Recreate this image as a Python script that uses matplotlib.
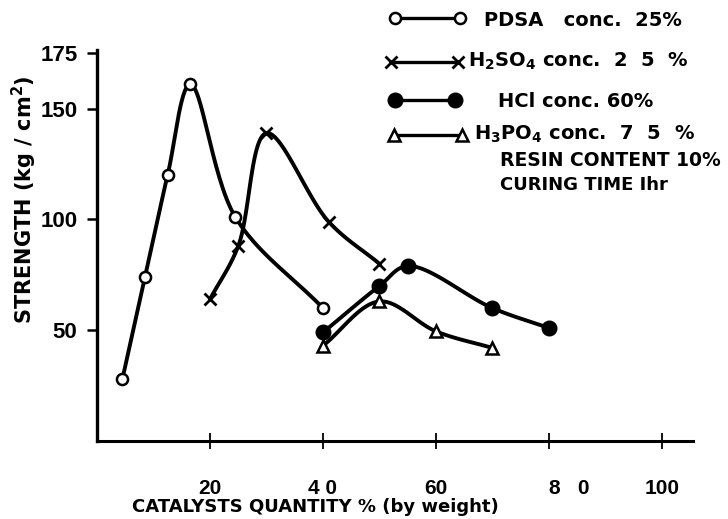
#! /usr/bin/env python3

import matplotlib

matplotlib.use("Agg")
import matplotlib.pyplot as plt
import numpy as np

# values
pdsa_x = [4.5, 8.5, 12.5, 16.5, 24.5, 40]
pdsa_y = [28, 74, 120, 161, 101, 60]
h2so4_x = [20, 25, 30, 41, 50]
h2so4_y = [64, 88, 139, 99, 80]
hcl_x = [40, 50, 55, 70, 80]
hcl_y = [49, 70, 79, 60, 51]
h3po4_x = [40, 50, 60, 70]
h3po4_y = [43, 63, 49.5, 42]

x_ticks = [20, 40, 60, 80, 100]
x_tick_labels = ["20", "4 0", "60", "8   0", "100"]
y_ticks = [50, 100, 150, 175]
y_tick_labels = ["50", "100", "150", "175"]

legend_labels = [
    "PDSA   conc.  25%",
    "H$_2$SO$_4$ conc.  2  5  %",
    "HCl conc. 60%",
    "H$_3$PO$_4$ conc.  7  5  %",
]
notes = ["RESIN CONTENT 10%", "CURING TIME Ihr"]

W, H = 728, 519
SX, SY = 5.65, 2.216  # rough pixels per data unit, only used to shape curves


def smooth(xs, ys, n=30, alpha=0.5):
    # centripetal Catmull-Rom through the read points (hand drawn look)
    p = np.column_stack([np.asarray(xs, float) * SX, np.asarray(ys, float) * SY])
    p = np.vstack([2 * p[0] - p[1], p, 2 * p[-1] - p[-2]])
    pts = []
    for i in range(len(p) - 3):
        P0, P1, P2, P3 = p[i : i + 4]
        t0 = 0.0
        t1 = t0 + np.linalg.norm(P1 - P0) ** alpha
        t2 = t1 + np.linalg.norm(P2 - P1) ** alpha
        t3 = t2 + np.linalg.norm(P3 - P2) ** alpha
        t = np.linspace(t1, t2, n, endpoint=False)[:, None]
        A1 = (t1 - t) / (t1 - t0) * P0 + (t - t0) / (t1 - t0) * P1
        A2 = (t2 - t) / (t2 - t1) * P1 + (t - t1) / (t2 - t1) * P2
        A3 = (t3 - t) / (t3 - t2) * P2 + (t - t2) / (t3 - t2) * P3
        B1 = (t2 - t) / (t2 - t0) * A1 + (t - t0) / (t2 - t0) * A2
        B2 = (t3 - t) / (t3 - t1) * A2 + (t - t1) / (t3 - t1) * A3
        C = (t2 - t) / (t2 - t1) * B1 + (t - t1) / (t2 - t1) * B2
        pts.append(C)
    pts.append(p[-2][None])
    pts = np.vstack(pts)
    return pts[:, 0] / SX, pts[:, 1] / SY


plt.rcParams["font.family"] = "DejaVu Sans"
plt.rcParams["font.weight"] = "bold"
plt.rcParams["mathtext.fontset"] = "custom"
plt.rcParams["mathtext.rm"] = "DejaVu Sans:bold"
plt.rcParams["mathtext.default"] = "rm"

fig = plt.figure(figsize=(7.28, 5.19), dpi=100)
ax = fig.add_axes([97 / W, 1 - 441 / H, (693 - 97) / W, (441 - 50) / H])

styles = [
    (pdsa_x, pdsa_y, dict(marker="o", ms=8, mfc="white", mew=1.8)),
    (h2so4_x, h2so4_y, dict(marker="x", ms=9, mew=2.0)),
    (hcl_x, hcl_y, dict(marker="o", ms=10, mfc="black", mew=1.5)),
    (h3po4_x, h3po4_y, dict(marker="^", ms=9, mfc="white", mew=1.8)),
]
for xs, ys, st in styles:
    sx, sy = smooth(xs, ys)
    ax.plot(sx, sy, color="black", lw=2.8, solid_capstyle="round", zorder=2)
    ax.plot(xs, ys, ls="none", color="black", mec="black", zorder=3, **st)

ax.set_xlim(0, 105.5)
ax.set_ylim(0, 176.5)
ax.spines["top"].set_visible(False)
ax.spines["right"].set_visible(False)
ax.spines["left"].set_linewidth(2.4)
ax.spines["bottom"].set_linewidth(2.2)

ax.set_xticks(x_ticks)
ax.set_xticklabels(x_tick_labels, fontsize=15, fontweight="bold",
                   family="Liberation Sans")
ax.set_yticks(y_ticks)
ax.set_yticklabels(y_tick_labels, fontsize=16, fontweight="bold",
                   family="Liberation Sans")
ax.tick_params(axis="x", direction="inout", length=12, width=1.3, pad=21)
ax.tick_params(axis="y", direction="out", length=7, width=1.8, pad=7)
for lab in ax.get_xticklabels():
    if lab.get_text().startswith("8"):
        lab.set_ha("left")

fig.text(315 / W, 1 - 507 / H, "CATALYSTS QUANTITY % (by weight)",
         ha="center", va="center", fontsize=13, fontweight="bold")
fig.text(24 / W, 1 - 200 / H, "STRENGTH (kg / cm$^2$)", rotation=90,
         ha="center", va="center", fontsize=15, fontweight="bold")

# hand drawn legend in pixel coordinates of the page
ov = fig.add_axes([0, 0, 1, 1], zorder=5)
ov.set_xlim(0, W)
ov.set_ylim(H, 0)
ov.axis("off")
ov.patch.set_alpha(0)

leg_rows = [
    (395, 460, 18, 484, 26),
    (391, 458, 62, 468, 67),
    (395, 455, 100, 498, 107),
    (394, 462, 135, 474, 140),
]
for (x0, x1, ym, xt, yb), label, (_, _, st) in zip(leg_rows, legend_labels, styles):
    ov.plot([x0, x1], [ym, ym], color="black", lw=2.4, zorder=1)
    ov.plot([x0, x1], [ym, ym], ls="none", color="black", mec="black", **st)
    ov.text(xt, yb, label, ha="left", va="baseline", fontsize=14, fontweight="bold")

ov.text(500, 166, notes[0], ha="left", va="baseline", fontsize=13.5, fontweight="bold")
ov.text(500, 190, notes[1], ha="left", va="baseline", fontsize=13, fontweight="bold")

fig.savefig("out.png", dpi=100)
